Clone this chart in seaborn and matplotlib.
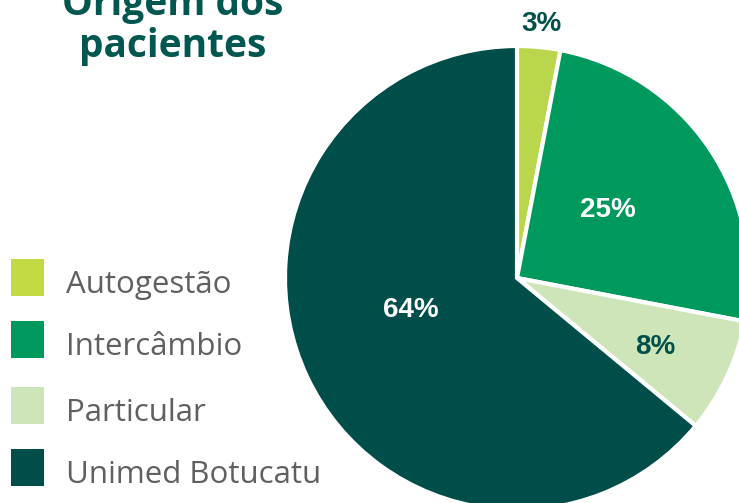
import matplotlib
matplotlib.use("Agg")
import matplotlib.pyplot as plt
from matplotlib.patches import Rectangle
import numpy as np
import seaborn as sns

sns.set_theme(style="white")

categories = ["Autogestão", "Intercâmbio", "Particular", "Unimed Botucatu"]
shares = [3, 25, 8, 64]
slice_colors = ["#b9d64c", "#00995d", "#cde5b9", "#004e4a"]
legend_colors = ["#c4da45", "#00995d", "#cde5b9", "#004e4a"]
label_colors = ["#00504a", "white", "#00504a", "white"]
label_radius = [1.10, 0.49, 0.665, 0.477]
label_shift = [0, 2.8, -1.3, -8.4]  # degrees away from wedge middle
title = "Origem dos\npacientes"

W, H = 739, 503
fig = plt.figure(figsize=(W / 100, H / 100), dpi=100)

# pie placed by pixel centre / radius
cx, cy, r = 517, 278, 232
ax = fig.add_axes([(cx - r) / W, (H - cy - r) / H, 2 * r / W, 2 * r / H])
wedges, _ = ax.pie(shares, colors=slice_colors, startangle=90, counterclock=False,
                   radius=1, wedgeprops=dict(edgecolor="white", linewidth=3))
ax.set_xlim(-1, 1)
ax.set_ylim(-1, 1)
ax.set_aspect("equal")
ax.axis("off")

for w, val, col, rad, sh in zip(wedges, shares, label_colors, label_radius, label_shift):
    ang = np.deg2rad((w.theta1 + w.theta2) / 2 + sh)
    ax.text(rad * np.cos(ang), rad * np.sin(ang), f"{val}%", ha="center", va="center",
            color=col, fontsize=20, fontweight="bold", family=["Liberation Sans", "DejaVu Sans"],
            clip_on=False)

# title (first line is cut by the top edge, as in the original)
fig.text(173 / W, 1 - 57 / H, title, ha="center", va="baseline", color="#00574f",
         fontsize=28, fontweight="bold", family=["Open Sans", "DejaVu Sans"], linespacing=1.1)

# legend drawn by hand
rows_y = [278, 340, 406, 468]
for cat, col, yy in zip(categories, legend_colors, rows_y):
    fig.patches.append(Rectangle((11 / W, 1 - (yy + 18) / H), 33 / W, 37 / H,
                                 transform=fig.transFigure, facecolor=col, edgecolor="none"))
    fig.text(66 / W, 1 - (yy + 7) / H, cat, ha="left", va="center", color="#606060",
             fontsize=22.5, family=["Open Sans", "DejaVu Sans"])

fig.savefig("out.png", dpi=100)
